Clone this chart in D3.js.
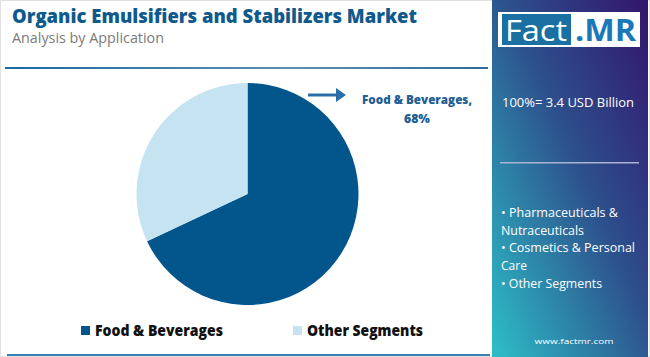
<!DOCTYPE html>
<html><head><meta charset="utf-8">
<script src="https://cdn.jsdelivr.net/npm/d3@7"></script>
<style>body{margin:0;background:#fff}svg{display:block}</style>
</head><body>
<svg id="c" width="650" height="357"></svg>
<script>
const categories = ["Food & Beverages", "Other Segments"];
const shares = [68, 32];
const colors = ["#03568c", "#c6e3f2"];
const otherSegments = ["Pharmaceuticals &", "Nutraceuticals", "Cosmetics & Personal", "Care", "Other Segments"];
const bulletFlags = [true, false, true, false, true];
const totalLabel = "100%= 3.4 USD Billion";

const svg = d3.select("#c");
const F = "'Open Sans', Lato, sans-serif";
const defs = svg.append("defs");
const g1 = defs.append("linearGradient").attr("id","panel").attr("x1","1").attr("y1","0").attr("x2","0").attr("y2","1");
g1.append("stop").attr("offset","0").attr("stop-color","#33156b");
g1.append("stop").attr("offset","0.45").attr("stop-color","#2d4f8c");
g1.append("stop").attr("offset","1").attr("stop-color","#2dbfc8");
const g2 = defs.append("linearGradient").attr("id","rule");
g2.append("stop").attr("offset","0").attr("stop-color","#1b6aa0");
g2.append("stop").attr("offset","0.6").attr("stop-color","#5d8fb5");
g2.append("stop").attr("offset","1").attr("stop-color","#2d6a9a");

function txt(x, y, s, size, opts = {}) {
  const t = svg.append("text").attr("x", x).attr("y", y).attr("font-family", F)
    .attr("font-size", size).attr("font-weight", opts.w || 400).attr("fill", opts.fill || "#000")
    .attr("text-anchor", opts.anchor || "start").text(s);
  if (opts.len) t.attr("textLength", opts.len).attr("lengthAdjust", "spacingAndGlyphs");
  return t;
}

// borders
svg.append("rect").attr("x",0.5).attr("y",0.5).attr("width",649).attr("height",356).attr("fill","none").attr("stroke","#e2e2e2");
svg.append("rect").attr("x",5).attr("y",67).attr("width",483).attr("height",2).attr("fill","url(#rule)");
svg.append("rect").attr("x",7).attr("y",354).attr("width",483).attr("height",2).attr("fill","#3c7fb0");

// title
txt(12, 23, "Organic Emulsifiers and Stabilizers Market", 19.5, {w: 800, fill: "#0f5a8c", len: 405});
txt(12, 43, "Analysis by Application", 14, {fill: "#7a7a7a", len: 152});

// pie
const cx = 247.5, cy = 194, r = 111;
const pie = d3.pie().sort(null).value(d => d);
const arc = d3.arc().innerRadius(0).outerRadius(r);
svg.append("g").attr("transform",`translate(${cx},${cy})`)
  .selectAll("path").data(pie(shares)).join("path")
  .attr("d",arc).attr("fill",(d,i)=>colors[i]);

// callout
svg.append("line").attr("x1",308).attr("y1",95).attr("x2",338).attr("y2",95).attr("stroke","#2a6ea8").attr("stroke-width",3);
svg.append("path").attr("d","M336,88 L346,95 L336,102 Z").attr("fill","#2a6ea8");
txt(362, 104, categories[0] + ",", 12.5, {w: 800, fill: "#1d5e94", len: 110});
txt(417, 123, shares[0] + "%", 12.5, {w: 800, fill: "#1d5e94", anchor: "middle", len: 26});

// legend
const lx = [81, 293];
const lw = [128, 116];
categories.forEach((c,i)=>{
  svg.append("rect").attr("x",lx[i]).attr("y",326).attr("width",9).attr("height",9).attr("fill",colors[i]);
  txt(lx[i]+14, 336, c, 15, {w: 800, fill: "#111", len: lw[i]});
});

// side panel
svg.append("rect").attr("x",492).attr("y",0).attr("width",156).attr("height",357).attr("fill","url(#panel)");
svg.append("rect").attr("x",498).attr("y",12).attr("width",142).attr("height",35).attr("fill","#fff");
svg.append("rect").attr("x",502).attr("y",14).attr("width",69).attr("height",31).attr("fill","#1a6fa3");
txt(505, 41, "Fact", 30, {fill: "#fff", len: 62});
txt(575, 41, ".MR", 30, {w: 700, fill: "#1a78b8", len: 61});
txt(502, 107, totalLabel, 13.5, {fill: "#fff", len: 132});
svg.append("rect").attr("x",500).attr("y",162).attr("width",139).attr("height",1.5).attr("fill","#aab3d6");
const bw = [117, 83, 134, 26, 101];
otherSegments.forEach((t,i)=>{
  txt(501, 217+i*17.7, (bulletFlags[i]?"• ":"")+t, 12.5, {fill: "#fff", len: bw[i]});
});
txt(574, 344, "www.factmr.com", 8, {fill: "#fff", anchor: "middle", len: 79});
</script>
</body></html>
